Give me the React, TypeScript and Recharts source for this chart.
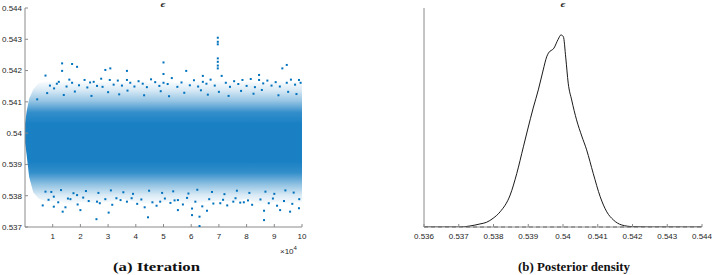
import React from "react";
import {
  ComposedChart,
  Area,
  Scatter,
  Line,
  XAxis,
  YAxis,
  ReferenceLine,
} from "recharts";

// ---------- Panel (a): trace of epsilon over iterations ----------
const iterTicks = [10000, 20000, 30000, 40000, 50000, 60000, 70000, 80000, 90000, 100000];
const traceYTicks = [0.537, 0.538, 0.539, 0.54, 0.541, 0.542, 0.543, 0.544];

// envelope of the cloud of draws
const bandIter = [0, 600, 1500, 3000, 5000, 8000, 12000, 16000, 20000, 25000, 30000, 35000, 40000, 45000, 50000, 55000, 60000, 65000, 70000, 75000, 80000, 85000, 90000, 95000, 100000];
const bandLo = [0.5397, 0.5393, 0.5386, 0.5381, 0.5379, 0.5378, 0.53785, 0.5377, 0.5378, 0.53775, 0.5378, 0.5379, 0.5378, 0.5377, 0.5378, 0.53785, 0.5377, 0.5378, 0.53785, 0.5378, 0.5379, 0.5377, 0.5378, 0.53775, 0.5378];
const bandHi = [0.5403, 0.5407, 0.5411, 0.5414, 0.5416, 0.54165, 0.5416, 0.5417, 0.54165, 0.5416, 0.54165, 0.5416, 0.5417, 0.5416, 0.5417, 0.5416, 0.54165, 0.5416, 0.5417, 0.5416, 0.54165, 0.5416, 0.54165, 0.5416, 0.54165];

// sparse draws outside the dense cloud (iteration, value)
const sparseDraws: [number, number][] = [
  [7400, 0.54184], [13400, 0.54223], [13400, 0.54199], [17000, 0.54221], [18800, 0.54212], [17000, 0.54161],
  [12200, 0.54164], [21500, 0.5417], [24800, 0.54164], [29000, 0.54202], [30800, 0.54207], [30600, 0.5417],
  [36800, 0.54199], [36800, 0.5417], [50000, 0.54226], [50000, 0.54189], [50000, 0.54161], [58200, 0.54199],
  [64200, 0.54183], [64200, 0.54164], [69600, 0.54305], [69600, 0.54292], [69600, 0.54284], [69600, 0.54239],
  [69600, 0.54228], [69600, 0.54216], [69600, 0.54207], [71000, 0.54183], [78500, 0.5417], [84500, 0.54186],
  [84500, 0.5417], [92900, 0.54207], [94500, 0.54218], [94500, 0.54161], [98900, 0.5417], [4400, 0.54108],
  [9000, 0.54152], [10500, 0.54143], [11500, 0.54158], [15000, 0.54149], [16000, 0.54171], [19500, 0.54153],
  [22500, 0.54146], [23500, 0.54162], [26000, 0.54151], [27500, 0.54174], [28000, 0.54148], [32000, 0.54155],
  [33500, 0.54168], [35000, 0.54152], [38000, 0.54161], [39500, 0.54149], [41000, 0.54166], [42500, 0.54158],
  [44000, 0.54147], [45500, 0.54172], [47000, 0.54163], [48500, 0.54151], [51500, 0.54157], [53000, 0.54176],
  [55000, 0.54148], [56500, 0.54162], [59500, 0.54153], [61000, 0.54169], [62500, 0.54149], [65500, 0.54158],
  [67000, 0.54171], [68500, 0.54152], [72500, 0.54161], [74000, 0.54148], [75500, 0.54166], [77000, 0.54157],
  [80000, 0.54151], [81500, 0.54173], [83000, 0.54147], [86000, 0.54159], [87500, 0.54168], [89000, 0.54152],
  [90500, 0.54163], [92000, 0.54149], [96000, 0.54171], [97500, 0.54155], [99500, 0.54161],
  [8000, 0.54128], [14000, 0.54122], [18000, 0.54133], [24000, 0.54119], [30000, 0.54131], [34000, 0.54124],
  [37000, 0.54136], [43000, 0.54121], [49000, 0.54134], [52000, 0.54118], [57500, 0.54129], [63500, 0.54137],
  [66000, 0.54123], [70000, 0.54132], [73500, 0.54119], [78000, 0.54135], [82500, 0.54126], [85500, 0.54138],
  [91500, 0.54121], [95000, 0.54132], [98000, 0.54125],
  [6400, 0.53769], [10400, 0.53765], [13600, 0.53749], [14600, 0.53763], [20000, 0.53754], [25800, 0.53725],
  [30200, 0.53746], [43200, 0.53763], [44400, 0.53731], [55200, 0.53754], [60300, 0.53738], [63000, 0.53733],
  [63000, 0.53703], [60300, 0.53759], [65700, 0.53752], [86300, 0.53722], [86300, 0.53752], [92100, 0.53754],
  [95700, 0.53749], [98900, 0.5376], [75200, 0.53781], [77700, 0.53778], [70500, 0.53776], [55200, 0.53786],
  [48800, 0.53781], [36800, 0.53781], [33000, 0.53792], [26000, 0.53781], [16400, 0.53789], [10400, 0.53797],
  [7400, 0.53813], [18800, 0.53802],
  [8500, 0.53787], [12000, 0.53779], [15500, 0.53791], [19000, 0.53772], [21000, 0.53794], [23000, 0.53783],
  [27000, 0.53776], [29000, 0.53789], [31500, 0.53771], [34500, 0.53786], [38500, 0.53792], [40500, 0.53774],
  [42000, 0.53788], [46000, 0.53779], [47500, 0.53768], [50500, 0.53791], [52500, 0.53777], [54000, 0.53785],
  [57000, 0.53772], [58500, 0.53793], [61500, 0.53781], [64000, 0.53766], [66500, 0.53789], [68000, 0.53775],
  [71500, 0.53787], [73000, 0.53769], [76000, 0.53792], [79000, 0.53779], [80500, 0.53785], [82000, 0.53771],
  [85000, 0.53788], [88000, 0.53776], [89500, 0.53791], [91000, 0.53768], [93500, 0.53783], [96500, 0.53774],
  [99000, 0.53789],
  [9500, 0.53812], [13000, 0.53818], [17500, 0.53808], [22000, 0.53815], [26500, 0.53809], [31000, 0.53817],
  [35500, 0.53811], [39000, 0.53806], [44800, 0.53816], [49500, 0.53809], [53500, 0.53814], [59000, 0.53807],
  [62200, 0.53819], [67500, 0.53812], [72000, 0.53805], [76500, 0.53816], [81000, 0.53809], [86800, 0.53813],
  [90000, 0.53806], [94000, 0.53817], [97000, 0.5381],
];

// ---------- Panel (b): posterior density ----------
const densityX = [0.536, 0.5365, 0.53704, 0.53732, 0.53761, 0.5378, 0.53799, 0.53819, 0.53848, 0.53867, 0.53886, 0.53898, 0.53915, 0.53929, 0.53943, 0.53953, 0.53958, 0.53974, 0.53986, 0.53994, 0.54001, 0.54008, 0.54015, 0.54025, 0.54039, 0.54054, 0.54068, 0.54087, 0.54107, 0.54126, 0.54145, 0.54169, 0.54201, 0.5425, 0.543, 0.544];
const densityY = [0, 0, 0, 3, 9, 14, 26, 45, 95, 159, 238, 288, 356, 407, 466, 505, 516, 531, 557, 570, 565, 502, 427, 377, 318, 270, 229, 159, 90, 45, 21, 6, 1, 0, 0, 0];
const densityTicks = [0.536, 0.537, 0.538, 0.539, 0.54, 0.541, 0.542, 0.543, 0.544];

const bandData = bandIter.map((iter, i) => ({ iter, band: [bandLo[i], bandHi[i]] }));
const drawData = sparseDraws.map(([iter, v]) => ({ iter, v }));
const densityData = densityX.map((x, i) => ({ x, d: densityY[i] }));

const BLUE = "#0072BD";
const AXIS = "#8a8a8a";
const TXT = "#262626";
const tickFont = { fontSize: 8, fontFamily: "Liberation Sans, Arial, sans-serif", fill: TXT };
const fmt3 = (v: number) => String(Number(v.toFixed(3)));

const Dot = (p: any) => <rect x={p.cx - 1} y={p.cy - 1} width={2} height={2} fill={BLUE} />;

export default function App() {
  return (
    <div style={{ position: "absolute", left: 0, top: 0, width: 712, height: 275, background: "#fff" }}>
      {/* Panel (a) */}
      <div style={{ position: "absolute", left: 0, top: 0 }}>
        <ComposedChart width={310} height={245} data={bandData} margin={{ top: 8, right: 8, left: 0, bottom: 0 }}>
          <defs>
            <linearGradient id="cloud" x1="0" y1="0" x2="0" y2="1">
              <stop offset="0" stopColor={BLUE} stopOpacity={0} />
              <stop offset="0.08" stopColor={BLUE} stopOpacity={0.15} />
              <stop offset="0.17" stopColor={BLUE} stopOpacity={0.42} />
              <stop offset="0.26" stopColor={BLUE} stopOpacity={0.8} />
              <stop offset="0.35" stopColor={BLUE} stopOpacity={0.9} />
              <stop offset="0.65" stopColor={BLUE} stopOpacity={0.9} />
              <stop offset="0.74" stopColor={BLUE} stopOpacity={0.8} />
              <stop offset="0.84" stopColor={BLUE} stopOpacity={0.42} />
              <stop offset="0.92" stopColor={BLUE} stopOpacity={0.15} />
              <stop offset="1" stopColor={BLUE} stopOpacity={0} />
            </linearGradient>
          </defs>
          <XAxis dataKey="iter" type="number" domain={[0, 100000]} ticks={iterTicks} tickFormatter={(v: number) => String(v / 10000)}
            allowDataOverflow height={18} tickSize={-3} tickMargin={9} tick={tickFont} stroke={AXIS} />
          <XAxis xAxisId="top" orientation="top" dataKey="iter" type="number" domain={[0, 100000]} ticks={iterTicks}
            allowDataOverflow height={0} tickSize={-3} tick={false} stroke={AXIS} />
          <YAxis type="number" domain={[0.537, 0.544]} ticks={traceYTicks} tickFormatter={fmt3} allowDataOverflow
            width={25} tickSize={-3} tickMargin={6} tick={tickFont} stroke={AXIS} />
          <YAxis yAxisId="r" orientation="right" type="number" domain={[0.537, 0.544]} ticks={traceYTicks} allowDataOverflow
            width={0} tickSize={-3} tick={false} stroke={AXIS} />
          <Area dataKey="band" type="linear" stroke="none" fill="url(#cloud)" fillOpacity={1} isAnimationActive={false} />
          <Scatter data={drawData} dataKey="v" shape={Dot} isAnimationActive={false} />
        </ComposedChart>
      </div>
      <div style={{ position: "absolute", left: 155, top: -1, width: 16, textAlign: "center", fontFamily: "DejaVu Serif, serif", fontStyle: "italic", fontWeight: "bold", fontSize: 8, color: TXT }}>ϵ</div>
      <div style={{ position: "absolute", left: 280, top: 245, fontFamily: "Liberation Sans, Arial, sans-serif", fontSize: 8, color: TXT, whiteSpace: "nowrap" }}>
        ×10<sup style={{ fontSize: 6 }}>4</sup>
      </div>

      {/* Panel (b) */}
      <div style={{ position: "absolute", left: 400, top: 0 }}>
        <ComposedChart width={312} height={245} data={densityData} margin={{ top: 8, right: 10, left: 0, bottom: 0 }}>
          <XAxis dataKey="x" type="number" domain={[0.536, 0.544]} ticks={densityTicks} tickFormatter={fmt3}
            allowDataOverflow height={18} tickSize={-3} tickMargin={9} tick={tickFont} stroke={AXIS} interval={0} />
          <XAxis xAxisId="top" orientation="top" dataKey="x" type="number" domain={[0.536, 0.544]} ticks={densityTicks}
            allowDataOverflow height={0} tickSize={-3} tick={false} stroke={AXIS} />
          <YAxis type="number" domain={[0, 650]} width={24} tick={false} tickLine={false} stroke={AXIS} allowDataOverflow />
          <YAxis yAxisId="r" orientation="right" type="number" domain={[0, 650]} width={0} tick={false} tickLine={false} stroke={AXIS} />
          <ReferenceLine y={0} stroke="#555" strokeDasharray="4 3" strokeWidth={1} />
          <Line dataKey="d" type="monotone" stroke="#000" strokeWidth={0.9} dot={false} isAnimationActive={false} />
        </ComposedChart>
      </div>
      <div style={{ position: "absolute", left: 555, top: -1, width: 16, textAlign: "center", fontFamily: "DejaVu Serif, serif", fontStyle: "italic", fontWeight: "bold", fontSize: 8, color: TXT }}>ϵ</div>

      {/* Sub-captions */}
      <svg width={712} height={275} style={{ position: "absolute", left: 0, top: 0, pointerEvents: "none" }}>
        <text x={156.5} y={271} textAnchor="middle" textLength={87} lengthAdjust="spacingAndGlyphs"
          fontFamily="Liberation Serif, serif" fontWeight="bold" fontSize={13} fill="#111">(a) Iteration</text>
        <text x={574} y={271} textAnchor="middle" textLength={112} lengthAdjust="spacingAndGlyphs"
          fontFamily="Liberation Serif, serif" fontWeight="bold" fontSize={13} fill="#111">(b) Posterior density</text>
      </svg>
    </div>
  );
}
